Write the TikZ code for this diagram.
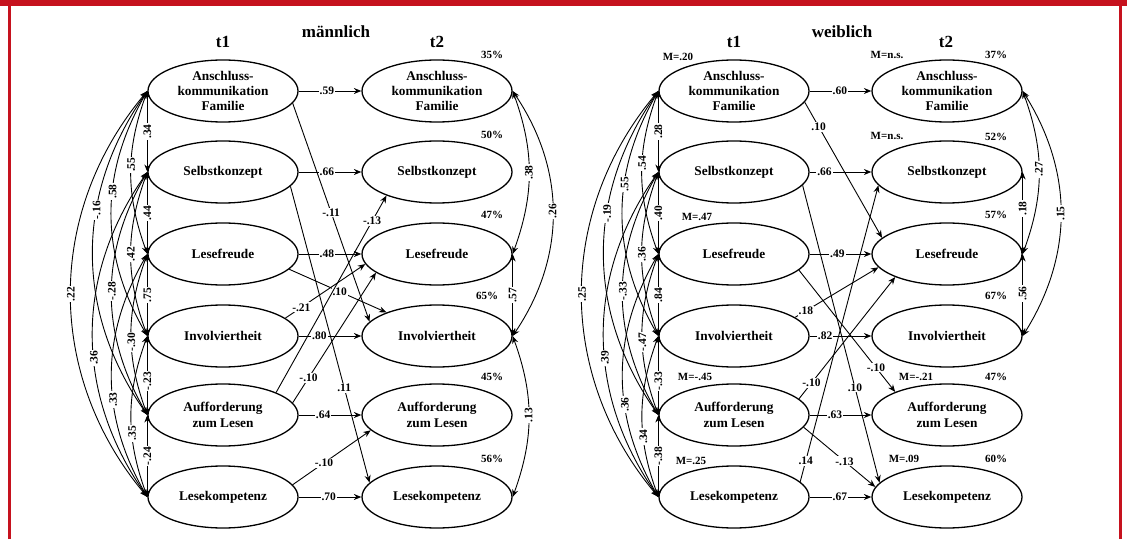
\documentclass[tikz,border=0pt]{standalone}
\usepackage{fontspec}
\setmainfont{Liberation Serif}
\usetikzlibrary{arrows.meta,shapes.geometric}
\definecolor{framered}{RGB}{198,18,30}
\tikzset{
    >={Stealth[length=7.5pt,width=6pt,inset=2.5pt]},
    latent/.style={ellipse, draw, line width=1.3pt, minimum width=150pt, minimum height=62pt, inner sep=0pt, align=center, font=\fontsize{13.3}{15.3}\selectfont\bfseries}, % Konstrukte
    effect/.style={->, line width=0.9pt}, % gerichtete Pfade
    corr/.style={<->, line width=0.9pt}, % Korrelationen
    coef/.style={fill=white, inner sep=1pt, font=\fontsize{11.5}{12}\selectfont\bfseries},
    rcoef/.style={coef, rotate=90},
    note/.style={inner sep=0pt, font=\fontsize{11}{12}\selectfont\bfseries},
    title/.style={inner sep=0pt, font=\fontsize{17}{19}\selectfont\bfseries}
}
\begin{document}
\begin{tikzpicture}[x=1pt, y=1pt]
    \useasboundingbox (0,0) rectangle (1127,539);
    % Rahmen
    \fill[framered] (0,533) rectangle (1127,539);
    \draw[framered, line width=2.5pt] (9.7,0) -- (9.7,533) (1120.5,0) -- (1120.5,533);

    \foreach \c/\x in {ma/223, mb/437, wa/734, wb/947} {
        \foreach \n/\y/\txt in {1/448/{Anschluss-\\kommunikation\\Familie}, 2/367/Selbstkonzept, 3/285/Lesefreude, 4/203/Involviertheit, 5/124/{Aufforderung\\zum Lesen}, 6/42/Lesekompetenz}
            {\node[latent] (\c\n) at (\x,\y) {\txt};}
    }

    \node[title] (male) at (336,507) {männlich};
    \node[title] (female) at (842,507) {weiblich};
    \foreach \nm/\x/\txt in {mt1/223/t1, mt2/437/t2, wt1/734/t1, wt2/946/t2}
        {\node[title] (\nm) at (\x,497) {\txt};}

    \foreach \nm/\x/\y/\txt in {mp1/492/484/35\%, mp2/492/404/50\%, mp3/492/324/47\%, mp4/487/243/65\%, mp5/492/162/45\%, mp6/492/80/56\%,
        wp1/996/484/37\%, wp2/996/402/52\%, wp3/996/324/57\%, wp4/996/243/67\%, wp5/996/162/47\%, wp6/996/80/60\%,
        wm1/678/482/M=.20, wm3/697/322/M=.47, wm5/695/162/M=-.45, wm6/691/78/M=.25,
        wn1/887/484/M=n.s., wn2/887/403/M=n.s., wn5/916/162/M=-.21, wn6/904/80/M=.09}
        {\node[note] (\nm) at (\x,\y) {\txt};}

    % Kreuzpfade
    \foreach \s/\t/\p/\v in {ma1.-10/mb4.168/.5/-.11, ma2.-12/mb6.168/.68/.11, ma3.-13/mb4.155/.52/.10, ma4.16/mb3.188/.2/-.21,
        ma5.10/mb3.197/.19/-.10, ma5.23/mb2.205/.87/-.13, ma6.10/mb5.193/.4/-.10,
        wa1.-9/wb3.166/.18/.10, wa2.-11/wb6.168/.68/.10, wa3.-14/wb5.156/.8/-.10, wa4.17/wb3.191/.13/.18,
        wa5.14/wb3.204/.13/-.10, wa6.13/wb2.191/.07/.14, wa5.-10/wb6.172/.57/-.13}
        {\draw[effect] (\s) -- node[coef, pos=\p] {\v} (\t);}

    % Stabilitaeten
    \foreach \n/\p/\v in {1/.45/.59, 2/.45/.66, 3/.45/.48, 4/.33/.80, 5/.39/.64, 6/.48/.70}
        {\draw[effect] (ma\n) -- node[coef, pos=\p] {\v} (mb\n);}
    \foreach \n/\p/\v in {1/.49/.60, 2/.24/.66, 3/.45/.49, 4/.25/.82, 5/.41/.63, 6/.49/.67}
        {\draw[effect] (wa\n) -- node[coef, pos=\p] {\v} (wb\n);}

    % Korrelationen t1
    \foreach \i/\j/\b/\p/\v in {1/2/0/.5/.34, 2/3/0/.5/.44, 3/4/0/.5/.75, 4/5/0/.58/-.23, 5/6/0/.5/-.24,
        1/3/20/.45/.55, 2/4/20/.5/.42, 3/5/20/.55/-.30, 4/6/20/.61/.35,
        1/4/30/.41/.58, 2/5/30/.49/-.28, 3/6/30/.6/.33, 1/5/35/.37/-.16, 2/6/35/.57/.36, 1/6/40/.5/.22}
        {\draw[corr] (ma\i.west) to[bend right=\b] node[rcoef, pos=\p] {\v} (ma\j.west);}
    \foreach \i/\j/\b/\p/\v in {1/2/0/.5/.28, 2/3/0/.5/.40, 3/4/0/.5/.84, 4/5/0/.58/-.33, 5/6/0/.5/-.38,
        1/3/20/.44/.54, 2/4/20/.5/.36, 3/5/20/.55/-.47, 4/6/20/.63/.34,
        1/4/30/.38/.55, 2/5/30/.49/-.33, 3/6/30/.62/.36, 1/5/35/.38/-.19, 2/6/35/.57/.39, 1/6/40/.5/.25}
        {\draw[corr] (wa\i.west) to[bend right=\b] node[rcoef, pos=\p] {\v} (wa\j.west);}

    % Korrelationen t2
    \foreach \i/\j/\b/\p/\v in {1/3/20/.5/.38, 1/4/34/.49/.26, 3/4/0/.5/.57, 4/6/20/.49/.13}
        {\draw[corr] (mb\i.east) to[bend left=\b] node[rcoef, pos=\p] {\v} (mb\j.east);}
    \foreach \i/\j/\b/\p/\v in {1/3/20/.48/.27, 2/3/0/.44/.18, 1/4/32/.5/.15, 3/4/0/.48/.56}
        {\draw[corr] (wb\i.east) to[bend left=\b] node[rcoef, pos=\p] {\v} (wb\j.east);}
\end{tikzpicture}
\end{document}
